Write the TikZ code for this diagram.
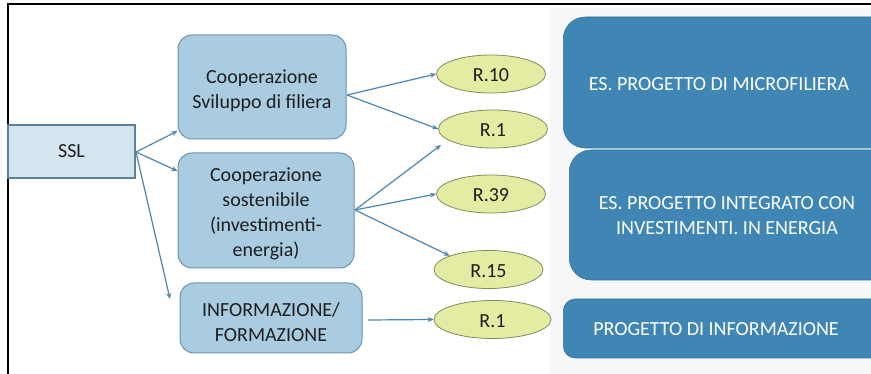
\documentclass[tikz,border=0pt]{standalone}
\usepackage{fontspec}
\setmainfont{Carlito}
\usetikzlibrary{shapes.geometric,arrows.meta}
\definecolor{sslfill}{HTML}{D4E5F0}
\definecolor{sslline}{HTML}{5E8199}
\definecolor{midfill}{HTML}{A9CCE1}
\definecolor{midline}{HTML}{6E93AE}
\definecolor{ellfill}{HTML}{E4EBA2}
\definecolor{ellline}{HTML}{7F8C5A}
\definecolor{darkbox}{HTML}{3F86B4}
\definecolor{darkline}{HTML}{33729C}
\definecolor{arrowc}{HTML}{4F85AE}
\definecolor{txt}{HTML}{1E1E1E}
\definecolor{graybg}{HTML}{F7F7F7}
\tikzset{
  sslbox/.style={draw=sslline, line width=1.2pt, fill=sslfill, minimum width=127pt, minimum height=53pt, inner sep=0pt, text=txt, font=\fontsize{20}{25}\selectfont},
  midbox/.style={draw=midline, line width=1pt, fill=midfill, rounded corners=14pt, inner sep=0pt},
  midtext/.style={text=txt, align=center, inner sep=0pt, font=\fontsize{20}{25}\selectfont},
  rell/.style={ellipse, draw=ellline, line width=0.8pt, fill=ellfill, minimum width=109pt, minimum height=38pt, inner sep=0pt},
  elltext/.style={text=txt, inner sep=0pt, font=\fontsize{20}{24}\selectfont},
  dbox/.style={draw=darkline, line width=0.6pt, fill=darkbox, rounded corners=22pt, inner sep=0pt},
  dtext/.style={text=white, align=center, inner sep=0pt, font=\fontsize{20}{25}\selectfont},
  conn/.style={draw=arrowc, line width=1.2pt, -{Stealth[length=6pt,width=5pt]}}
}
\begin{document}
\begin{tikzpicture}[x=1pt,y=-1pt]
\useasboundingbox (0,0) rectangle (871,374);
\fill[white] (0,0) rectangle (871,374);
\fill[graybg] (550,8) rectangle (871,374);
% frame
\draw[black, line width=2.5pt] (8,374) -- (8,4) -- (871,4);
% SSL
\node[sslbox] (ssl) at (71.5,151.5) {SSL};
% middle boxes
\node[midbox, minimum width=168pt, minimum height=104pt] (b1) at (262,87) {};
\node[midtext] (b1t) at ([yshift=-3.5pt]b1.center) {Cooperazione\\Sviluppo di filiera};
\node[midbox, minimum width=176pt, minimum height=115pt] (b2) at (266,210.5) {};
\node[midtext] (b2t) at ([yshift=-3.5pt]b2.center) {Cooperazione\\sostenibile\\(investimenti-\\energia)};
\node[midbox, minimum width=182pt, minimum height=70pt] (b3) at (271,318) {};
\node[midtext] (b3t) at ([yshift=-4pt]b3.center) {INFORMAZIONE/\\FORMAZIONE};
% ellipses
\node[rell] (r10) at (491,74) {};
\node[elltext] (r10t) at ([yshift=-1.5pt]r10.center) {R.10};
\node[rell] (r1a) at (493,129) {};
\node[elltext] (r1at) at ([yshift=-1.5pt]r1a.center) {R.1};
\node[rell] (r39) at (491,194) {};
\node[elltext] (r39t) at ([yshift=-1.5pt]r39.center) {R.39};
\node[rell] (r15) at (488.5,269.5) {};
\node[elltext] (r15t) at ([yshift=-1.5pt]r15.center) {R.15};
\node[rell, minimum width=117pt] (r1b) at (492.5,319.5) {};
\node[elltext] (r1bt) at ([yshift=-1.5pt]r1b.center) {R.1};
% right boxes
\node[dbox, minimum width=340pt, minimum height=131pt, anchor=west] (e1) at (563,82.5) {};
\node[dtext] (t1) at (719,84) {ES. PROGETTO DI MICROFILIERA};
\node[dbox, minimum width=334pt, minimum height=130pt, anchor=west] (e2) at (569,215) {};
\node[dtext] (t2) at (727,216) {ES. PROGETTO INTEGRATO CON\\INVESTIMENTI. IN ENERGIA};
\node[dbox, rounded corners=12pt, minimum width=340pt, minimum height=59pt, anchor=west] (e3) at (563,328.5) {};
\node[dtext] (t3) at (716,329) {PROGETTO DI INFORMAZIONE};
% connectors
\coordinate (sslout) at (136,152);
\coordinate (b1out) at (347,95);
\coordinate (b2out) at (355,210);
\coordinate (b3out) at (368,320);
\coordinate (b3in) at (170,299);
\coordinate (r1ain) at (441,145);
\draw[conn] (sslout) -- (b1.west |- 0,131);
\draw[conn] (sslout) -- (b2.west |- 0,171);
\draw[conn] (sslout) -- (b3in);
\draw[conn] (b1out) -- (r10.west);
\draw[conn] (b1out) -- (r1a.west);
\draw[conn] (b2out) -- (r1ain);
\draw[conn] (b2out) -- (r39.west);
\draw[conn] (b2out) -- (r15.north west);
\draw[conn] (b3out) -- (r1b.west);
\end{tikzpicture}
\end{document}
